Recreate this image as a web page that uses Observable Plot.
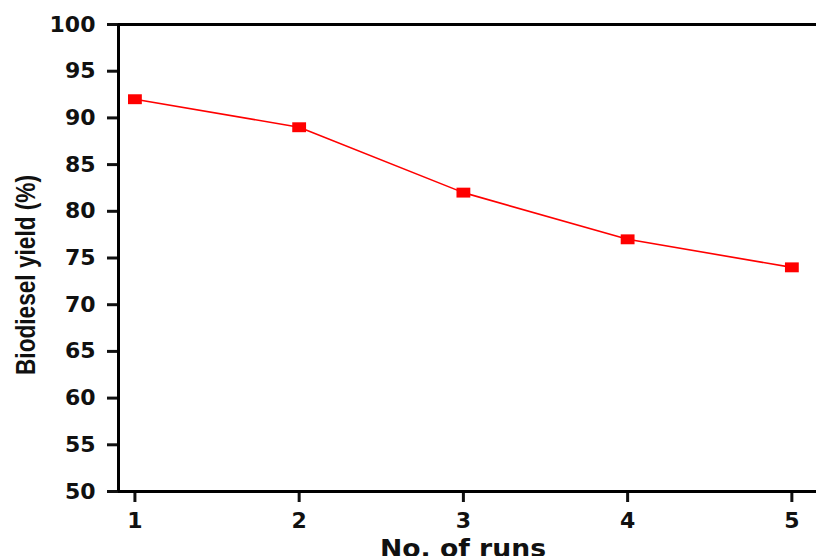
<!DOCTYPE html>
<html><head><meta charset="utf-8">
<script src="https://cdn.jsdelivr.net/npm/d3@7"></script>
<script src="https://cdn.jsdelivr.net/npm/@observablehq/plot@0.6"></script>
<style>body{margin:0;background:#fff}</style>
</head><body><div id="chart"></div>
<script>
const runs = [1, 2, 3, 4, 5];
const yieldPct = [92, 89, 82, 77, 74];
const yTicks = [50, 55, 60, 65, 70, 75, 80, 85, 90, 95, 100];
const xTicks = [1, 2, 3, 4, 5];
const xLabel = "No. of runs";
const yLabel = "Biodiesel yield (%)";
const data = runs.map((r, i) => ({run: r, y: yieldPct[i]}));

const wideSquare = {
  draw(ctx, size) {
    const s = Math.sqrt(size);
    const w = s * 0.6, h = s * 0.43;
    ctx.rect(-w, -h, 2 * w, 2 * h);
  }
};

const chart = Plot.plot({
  width: 816, height: 556,
  marginLeft: 118, marginTop: 24, marginBottom: 65, marginRight: 0,
  style: {fontFamily: "'DejaVu Sans', sans-serif", fontWeight: "bold", fontSize: "22px", color: "#111", background: "#fff", overflow: "visible"},
  x: {domain: [0.9, 5.15]},
  y: {domain: [50, 100]},
  marks: [
    Plot.axisY({ticks: yTicks, tickSize: 11, tickPadding: 12, strokeWidth: 3, label: null, fontSize: 22, tickFormat: "d"}),
    Plot.axisX({ticks: xTicks, tickSize: 11, tickPadding: 10, strokeWidth: 3, label: null, fontSize: 22, tickFormat: "d"}),
    Plot.ruleY([50, 100], {stroke: "#000", strokeWidth: 3}),
    Plot.ruleX([0.9], {stroke: "#000", strokeWidth: 3}),
    Plot.line(data, {x: "run", y: "y", stroke: "#ff0000", strokeWidth: 1.6}),
    Plot.dot(data, {x: "run", y: "y", symbol: wideSquare, r: 6.5, fill: "#ff0000", stroke: "none"}),
    Plot.text([xLabel], {frameAnchor: "bottom", dx: -4.5, dy: 48, lineAnchor: "top", fontSize: 24, fontWeight: "bold", fill: "#111", fontFamily: "'DejaVu Sans', sans-serif", className: "xlab"}),
    Plot.text([yLabel], {frameAnchor: "left", dx: -92, dy: 17, rotate: -90, textAnchor: "middle", fontSize: 28, fontWeight: "bold", fill: "#111", fontFamily: "'Liberation Sans', Arial, sans-serif", className: "ylab"})
  ]
});
document.getElementById("chart").appendChild(chart);
d3.select(chart).selectAll(".ylab text").attr("textLength", 200).attr("lengthAdjust", "spacingAndGlyphs");
d3.select(chart).selectAll(".xlab text").attr("textLength", 166).attr("lengthAdjust", "spacingAndGlyphs");
</script>
</body></html>
